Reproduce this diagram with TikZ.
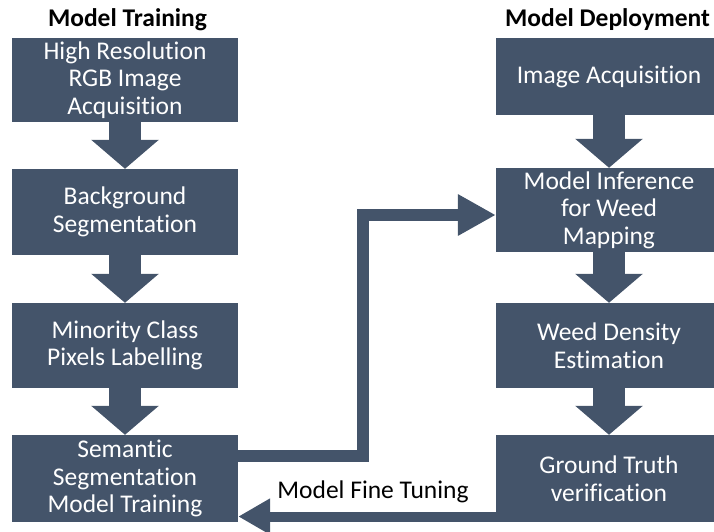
\documentclass[tikz,border=0pt]{standalone}
\usepackage{fontspec}
\setmainfont{Carlito}[Ligatures=NoCommon]
\usetikzlibrary{arrows.meta}
\definecolor{slate}{HTML}{44546A}

\begin{document}
\begin{tikzpicture}[
  x=1pt, y=-1pt,
  step box/.style={draw=none, fill=slate, text=white,
                   minimum width=226pt, minimum height=85pt,
                   inner sep=1pt, align=center,
                   font=\fontsize{25.5}{27.5}\selectfont},
  title/.style={font=\fontsize{25.5}{28}\selectfont\bfseries},
  block arrow/.style={draw=slate, line width=32pt,
                      -{Triangle[width=66pt, length=29pt]}},
  link/.style={draw=slate, line width=12pt, line join=miter,
               -{Triangle[width=39pt, length=38pt]}},
  back link/.style={draw=slate, line width=10pt,
                    -{Triangle[width=34pt, length=32pt]}}
]
  \useasboundingbox (0,0) rectangle (714,531);

  \node[title] (train) at (127.5,20) {Model Training};
  \node[title] (deploy) at (607.5,20) {Model Deployment};

  % model training column
  \node[step box, minimum height=84pt] (acq) at (125,80) {High Resolution\\RGB Image\\Acquisition};
  \node[step box, minimum height=86pt] (bg) at (125,212) {Background\\Segmentation};
  \node[step box] (label) at (125,345.5) {Minority Class\\Pixels Labelling};
  \node[step box, minimum height=87pt] (seg) at (125,478.5) {Semantic\\Segmentation\\Model Training};

  % model deployment column
  \node[step box, minimum height=77pt] (img) at (609,76.5) {Image Acquisition};
  \node[step box, minimum height=84pt] (infer) at (609,210) {Model Inference\\for Weed\\Mapping};
  \node[step box] (density) at (609,345.5) {Weed Density\\Estimation};
  \node[step box, minimum height=87pt] (truth) at (609,478.5) {Ground Truth\\verification};

  \draw[block arrow] (acq) -- (bg);
  \draw[block arrow] (bg) -- (label);
  \draw[block arrow] (label) -- (seg);
  \draw[block arrow] (img) -- (infer);
  \draw[block arrow] (infer) -- (density);
  \draw[block arrow] (density) -- (truth);

  \coordinate (bend) at (362.5,215);
  \draw[link] ([yshift=23pt]seg.east) -| (bend) -- ([yshift=-5pt]infer.west);

  \draw[back link] ([yshift=-38pt]truth.west) -- ([yshift=-38pt]seg.east);
  \node (tune) at (373,492) {\fontsize{25.5}{28}\selectfont Model Fine Tuning};
\end{tikzpicture}
\end{document}
